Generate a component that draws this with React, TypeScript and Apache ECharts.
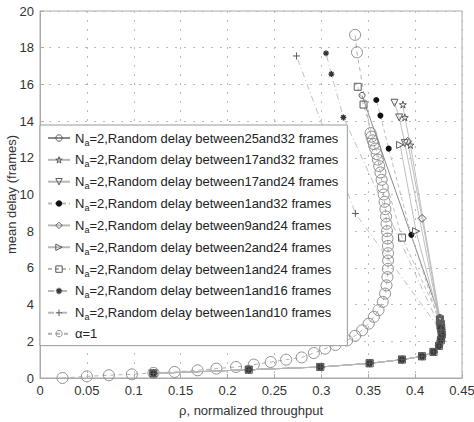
import React, { useEffect, useRef } from "react";
import * as echarts from "echarts";

const xTickLabels = ["0", "0.05", "0.1", "0.15", "0.2", "0.25", "0.3", "0.35", "0.4", "0.45"];
const yTickLabels = ["0", "2", "4", "6", "8", "10", "12", "14", "16", "18", "20"];

const seriesNames = [
  "N_a=2,Random delay between25and32 frames",
  "N_a=2,Random delay between17and32 frames",
  "N_a=2,Random delay between17and24 frames",
  "N_a=2,Random delay between1and32 frames",
  "N_a=2,Random delay between9and24 frames",
  "N_a=2,Random delay between2and24 frames",
  "N_a=2,Random delay between1and24 frames",
  "N_a=2,Random delay between1and16 frames",
  "N_a=2,Random delay between1and10 frames",
  "α=1",
];

// shared lower branch of the N_a=2 curves
const lowBranch = [
  [0.121, 0.25], [0.2227, 0.45], [0.299, 0.6], [0.3516, 0.8], [0.386, 1.0],
  [0.4074, 1.18], [0.4197, 1.42], [0.4255, 1.75], [0.4275, 2.05], [0.4285, 2.35], [0.428, 2.65],
];

const upper25to32 = [[0.4275, 2.95], [0.4265, 3.3], [0.3434, 15.4]];
const upper17to32 = [[0.4275, 2.9], [0.4265, 3.25], [0.395, 12.7], [0.389, 14.2], [0.387, 14.9]];
const upper17to24 = [[0.427, 2.85], [0.426, 3.15], [0.389, 12.8], [0.383, 14.2], [0.378, 15.0]];
const upper1to32 = [[0.427, 2.8], [0.396, 7.8], [0.3718, 12.5], [0.363, 14.3], [0.3586, 15.15]];
const upper9to24 = [[0.4275, 2.9], [0.4265, 3.1], [0.4074, 8.7], [0.392, 12.9]];
const upper2to24 = [[0.427, 2.85], [0.4265, 3.05], [0.401, 8.0], [0.384, 12.7]];
const upper1to24 = [[0.4275, 2.95], [0.4265, 3.2], [0.386, 7.65], [0.345, 14.9], [0.3388, 15.87]];
const upper1to16 = [[0.427, 2.7], [0.3235, 14.2], [0.3107, 16.56], [0.305, 17.7]];
const upper1to10 = [[0.427, 2.6], [0.3363, 8.97], [0.2735, 17.55]];

const alphaOne = [
  [0.024, 0.0], [0.05, 0.09], [0.0735, 0.15], [0.098, 0.2], [0.121, 0.28], [0.1435, 0.33],
  [0.168, 0.42], [0.188, 0.51], [0.209, 0.6], [0.228, 0.73], [0.246, 0.87], [0.2625, 1.0],
  [0.279, 1.12], [0.292, 1.36], [0.304, 1.6], [0.315, 1.8], [0.3275, 2.05], [0.336, 2.3],
  [0.3435, 2.6], [0.3505, 2.96], [0.356, 3.33], [0.361, 3.7], [0.3655, 4.15], [0.368, 4.6],
  [0.3695, 5.05], [0.3705, 5.5], [0.371, 5.95], [0.3712, 6.4], [0.3712, 6.8], [0.371, 7.2],
  [0.3706, 7.6], [0.37, 8.0], [0.3695, 8.4], [0.369, 8.8], [0.3683, 9.2], [0.3675, 9.6],
  [0.3665, 10.0], [0.3655, 10.4], [0.3643, 10.8], [0.363, 11.2], [0.3617, 11.55], [0.3603, 11.9],
  [0.359, 12.2], [0.3575, 12.5], [0.356, 12.75], [0.3547, 12.95], [0.3535, 13.15], [0.3525, 13.35],
  [0.338, 17.75], [0.336, 18.7],
];

const starPath = "path://M50,0 L61,35 L98,35 L68,57 L79,91 L50,70 L21,91 L32,57 L2,35 L39,35 Z";
const plusPath = "path://M5,0L5,10M0,5L10,5";
const asteriskPath = "path://M5,0L5,10M0,5L10,5M1.5,1.5L8.5,8.5M8.5,1.5L1.5,8.5";

const MARK = "#5a5a5a";
const LINE = "#b8b8b8";

const hollow = { color: "transparent", borderColor: MARK, borderWidth: 1 };
const dotStyle = { color: "#111", borderColor: "#111", borderWidth: 0 };
const asteriskStyle = { color: "transparent", borderColor: "#333", borderWidth: 1.3 };
const alphaStyle = { color: "transparent", borderColor: "#8f8f8f", borderWidth: 1 };

function mkSeries(name: string, data: number[][], symbol: string, lineType: any, extra: any = {}) {
  return {
    type: "line",
    name,
    data,
    symbol,
    symbolSize: 6,
    lineStyle: { color: LINE, width: 0.9, type: lineType },
    itemStyle: hollow,
    ...extra,
  };
}

export default function App() {
  const ref = useRef<HTMLDivElement>(null);
  useEffect(() => {
    document.body.style.margin = "0";
    const chart = echarts.init(ref.current!, undefined, { renderer: "svg" });
    const dashDot = [6, 3, 1, 3];
    const series: any[] = [
      mkSeries(seriesNames[0], [...lowBranch, ...upper25to32], "circle", "solid", {
        lineStyle: { color: "#8a8a8a", width: 1, type: "solid" },
      }),
      mkSeries(seriesNames[1], [...lowBranch, ...upper17to32], starPath, "solid", { symbolSize: 7 }),
      mkSeries(seriesNames[2], [...lowBranch, ...upper17to24], "triangle", "solid", { symbolRotate: 180, symbolSize: 7 }),
      mkSeries(seriesNames[3], [...lowBranch, ...upper1to32], "circle", [4, 3], { itemStyle: dotStyle }),
      mkSeries(seriesNames[4], [...lowBranch, ...upper9to24], "diamond", "solid", { symbolSize: 8 }),
      mkSeries(seriesNames[5], [...lowBranch, ...upper2to24], "triangle", "solid", { symbolRotate: -90, symbolSize: 7 }),
      mkSeries(seriesNames[6], [...lowBranch, ...upper1to24], "rect", [4, 3], { symbolSize: 7 }),
      mkSeries(seriesNames[7], [...lowBranch, ...upper1to16], asteriskPath, dashDot, { itemStyle: asteriskStyle }),
      mkSeries(seriesNames[8], [...lowBranch, ...upper1to10], plusPath, dashDot, { symbolSize: 7 }),
      {
        type: "line",
        name: seriesNames[9],
        data: alphaOne,
        symbol: "circle",
        symbolSize: 11,
        lineStyle: { color: "#b0b0b0", width: 1, type: [4, 4] },
        itemStyle: alphaStyle,
        z: 1,
      },
    ];
    const legendStyles = [hollow, hollow, hollow, dotStyle, hollow, hollow, hollow, asteriskStyle, hollow, alphaStyle];
    chart.setOption({
      animation: false,
      backgroundColor: "#fff",
      textStyle: { fontFamily: "Liberation Sans, Arial, sans-serif" },
      grid: {
        left: 40, right: 12, top: 11, bottom: 44,
        outerBoundsMode: "none",
        containLabel: false,
        show: true, borderColor: "#aaa", borderWidth: 1,
      },
      xAxis: {
        type: "value",
        min: 0,
        max: 0.45,
        interval: 0.05,
        name: "ρ, normalized throughput",
        nameLocation: "middle",
        nameGap: 26,
        nameMoveOverlap: false,
        nameTextStyle: { fontSize: 13, color: "#333" },
        axisLine: { show: true, lineStyle: { color: "#aaa" } },
        axisTick: { inside: true, length: 4, lineStyle: { color: "#aaa" } },
        axisLabel: {
          fontSize: 13,
          color: "#333",
          margin: 6,
          formatter: (v: number) => xTickLabels[Math.round(v / 0.05)] ?? "",
        },
        splitLine: { show: true, lineStyle: { color: "#bbb", type: [2, 7] } },
      },
      yAxis: {
        type: "value",
        min: 0,
        max: 20,
        interval: 2,
        name: "mean delay (frames)",
        nameLocation: "middle",
        nameGap: 22,
        nameMoveOverlap: false,
        nameTextStyle: { fontSize: 13, color: "#333" },
        axisLine: { show: true, lineStyle: { color: "#aaa" } },
        axisTick: { inside: true, length: 4, lineStyle: { color: "#aaa" } },
        axisLabel: {
          fontSize: 13,
          color: "#333",
          margin: 6,
          formatter: (v: number) => yTickLabels[Math.round(v / 2)] ?? "",
        },
        splitLine: { show: true, lineStyle: { color: "#bbb", type: [2, 7] } },
      },
      legend: {
        show: true,
        orient: "vertical",
        left: 40,
        top: 125,
        padding: [4, 9, 4, 7],
        itemGap: 3.85,
        itemWidth: 22,
        itemHeight: 8,
        backgroundColor: "#fff",
        borderColor: "#999",
        borderWidth: 1,
        borderRadius: 0,
        data: seriesNames.map((n, i) => ({ name: n, itemStyle: legendStyles[i] })),
        formatter: (name: string) =>
          name.startsWith("N_a") ? `{n|N}{s|a}{n|${name.slice(3)}}` : `{n|${name}}`,
        textStyle: {
          color: "#222",
          fontSize: 13,
          lineHeight: 16,
          rich: {
            n: { fontSize: 13, color: "#222", lineHeight: 16 },
            s: { fontSize: 9, color: "#222", padding: [9, 0, 0, 0], lineHeight: 16 },
          },
        },
      },
      series,
    });
    return () => chart.dispose();
  }, []);
  return <div ref={ref} style={{ width: 474, height: 422 }} />;
}
